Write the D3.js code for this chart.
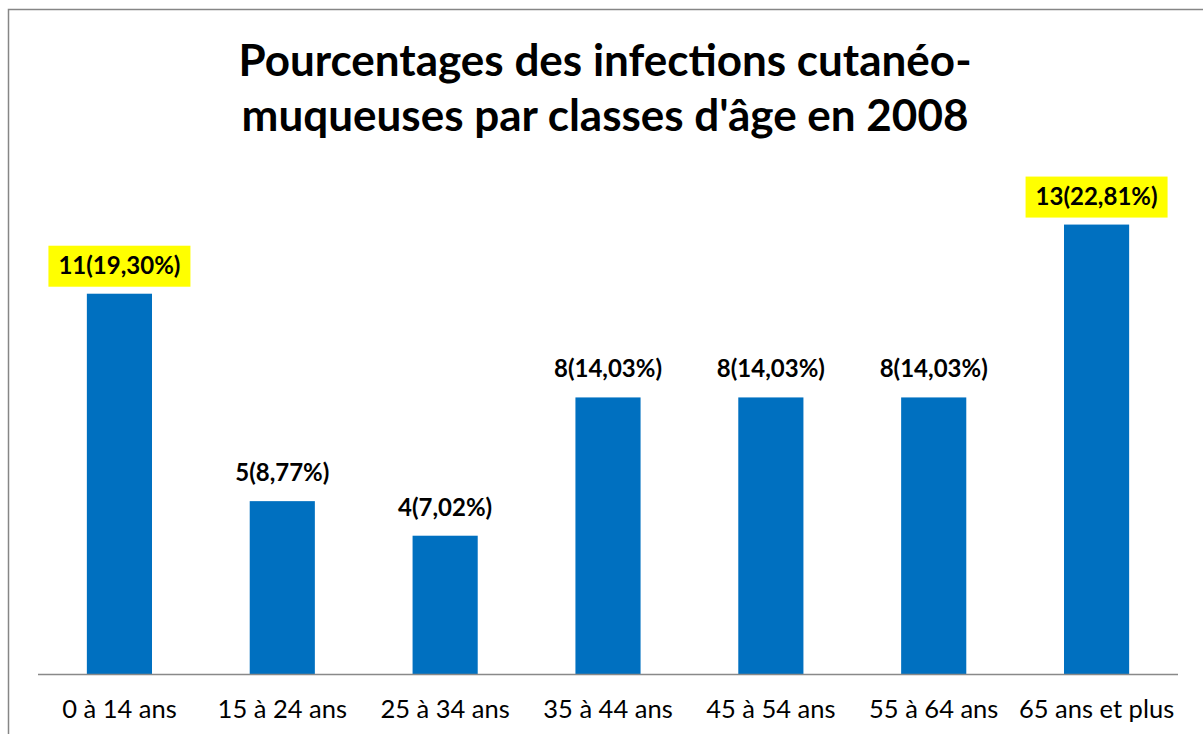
<!DOCTYPE html>
<html>
<head>
<meta charset="utf-8">
<script src="https://cdn.jsdelivr.net/npm/d3@7"></script>
<style>
  body { margin: 0; background: #fff; }
  svg { display: block; font-family: Lato, "Liberation Sans", sans-serif; }
</style>
</head>
<body>
<svg></svg>
<script>
// data
var categories = ["0 à 14 ans", "15 à 24 ans", "25 à 34 ans", "35 à 44 ans", "45 à 54 ans", "55 à 64 ans", "65 ans et plus"];
var counts = [11, 5, 4, 8, 8, 8, 13];
var percents = [19.30, 8.77, 7.02, 14.03, 14.03, 14.03, 22.81];
var highlighted = ["0 à 14 ans", "65 ans et plus"];
var titleLines = ["Pourcentages des infections cutanéo-", "muqueuses par classes d'âge en 2008"];

var width = 1203, height = 734;
var margin = {top: 190, right: 25, bottom: 60, left: 38};

var svg = d3.select("svg")
    .attr("width", width)
    .attr("height", height);

// chart border
svg.append("rect")
    .attr("x", 8.5)
    .attr("y", 9.5)
    .attr("width", width + 20)
    .attr("height", height + 20)
    .attr("fill", "none")
    .attr("stroke", "#868686")
    .attr("stroke-width", 1.5);

// title
svg.append("text")
    .attr("text-anchor", "middle")
    .attr("font-weight", "bold")
    .attr("font-size", 44)
    .attr("fill", "#000")
    .selectAll("tspan")
    .data(titleLines)
    .join("tspan")
    .attr("x", 605)
    .attr("y", function(d, i) { return 76 + i * 55; })
    .text(function(d) { return d; });

var x = d3.scaleBand()
    .domain(categories)
    .range([margin.left, width - margin.right])
    .paddingInner(0.6)
    .paddingOuter(0.3);

var y = d3.scaleLinear()
    .domain([0, 14])
    .range([height - margin.bottom, margin.top]);

var rows = categories.map(function(c, i) {
    return {cat: c, count: counts[i], pct: percents[i]};
});

// bars
svg.append("g")
    .selectAll("rect")
    .data(rows)
    .join("rect")
    .attr("x", function(d) { return x(d.cat); })
    .attr("y", function(d) { return y(d.count); })
    .attr("width", x.bandwidth())
    .attr("height", function(d) { return y(0) - y(d.count); })
    .attr("fill", "#0070C0");

// x axis
var xAxis = svg.append("g")
    .attr("transform", "translate(0," + y(0) + ")")
    .call(d3.axisBottom(x).tickSize(0).tickPadding(0));
xAxis.select(".domain")
    .attr("stroke", "#898989")
    .attr("stroke-width", 1.5)
    .attr("d", "M" + margin.left + ",0.5H" + (width - margin.right));
xAxis.selectAll(".tick text")
    .attr("y", 44)
    .attr("dy", null)
    .attr("font-family", "Lato, sans-serif")
    .attr("font-size", 25.5)
    .attr("fill", "#000");

// data labels
var fmt = function(d) { return d.count + "(" + d.pct.toFixed(2).replace(".", ",") + "%)"; };
var labels = svg.append("g")
    .selectAll("g")
    .data(rows)
    .join("g")
    .attr("transform", function(d) {
        return "translate(" + (x(d.cat) + x.bandwidth() / 2) + "," + (y(d.count) - 20) + ")";
    });

labels.filter(function(d) { return highlighted.indexOf(d.cat) >= 0; })
    .append("rect")
    .attr("x", -71)
    .attr("y", -28)
    .attr("width", 142)
    .attr("height", 41)
    .attr("fill", "#FFFF00");

labels.append("text")
    .attr("text-anchor", "middle")
    .attr("font-weight", "bold")
    .attr("font-size", 24)
    .attr("fill", "#000")
    .text(fmt);
</script>
</body>
</html>
